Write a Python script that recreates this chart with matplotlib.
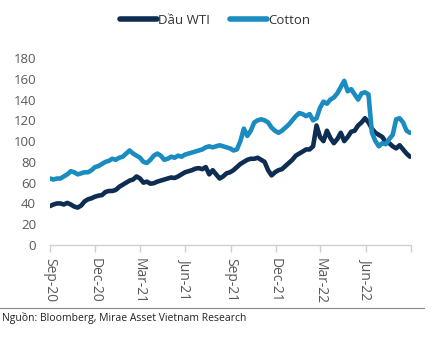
import matplotlib.pyplot as plt
import matplotlib.dates as mdates
import numpy as np
import pandas as pd

plt.rcParams['font.family'] = ['Open Sans', 'DejaVu Sans']

# weekly closes, Sep 2020 - Aug 2022
dates = pd.date_range('2020-09-01', periods=105, freq='7D')

wti = [37.5, 39, 40, 40, 39, 40.5, 39, 37, 36, 38,
       42, 44, 45, 46.5, 47.5, 48, 51, 52, 52, 53,
       56, 58, 60, 62, 63, 66, 64, 60, 61, 59,
       59.5, 61, 62, 63, 64, 65, 64.5, 66, 68, 70,
       71, 72, 73.5, 74, 73, 75, 68, 72, 68, 64,
       66, 69, 70, 72, 75, 78, 80, 82, 83, 83,
       84, 82, 80, 72, 67, 70, 72, 73, 76, 79,
       82, 86, 88, 90, 92, 92, 95, 115, 104, 100,
       110, 103, 98, 102, 108, 100, 104, 109, 110, 115,
       118, 122, 118, 112, 108, 106, 104, 99, 98, 95,
       93, 96, 92, 88, 85]

cotton = [64, 63, 64, 64, 66, 68, 71, 70, 68, 69,
          70, 70, 72, 75, 76, 78, 80, 81, 83, 82,
          84, 85, 88, 91, 88, 86, 84, 80, 79, 82,
          86, 88, 86, 82, 83, 85, 84, 86, 85, 87,
          88, 89, 90, 91, 92, 94, 95, 94, 95, 96,
          95, 94, 93, 91, 92, 100, 112, 105, 110, 118,
          120, 121, 120, 118, 113, 110, 108, 110, 113, 116,
          120, 124, 127, 126, 124, 126, 120, 122, 132, 138,
          136, 140, 142, 146, 152, 158, 148, 150, 145, 140,
          146, 147, 145, 108, 100, 95, 98, 97, 102, 106,
          121, 122, 118, 110, 108]

tick_dates = pd.date_range('2020-09-01', '2022-09-01', freq='3MS')
tick_labels = ['Sep-20', 'Dec-20', 'Mar-21', 'Jun-21', 'Sep-21',
               'Dec-21', 'Mar-22', 'Jun-22', '']

navy = '#0e2d52'
blue = '#1a8cc0'
grey = '#595959'

fig = plt.figure(figsize=(4.39, 3.37), dpi=100)
ax = fig.add_axes([50 / 439, 1 - 245 / 337, 361 / 439, 187 / 337])

ax.plot(dates, wti, color=navy, lw=3.3, label='Dầu WTI', solid_capstyle='round')
ax.plot(dates, cotton, color=blue, lw=3.3, label='Cotton', solid_capstyle='round')

ax.set_xlim(tick_dates[0], tick_dates[-1])
ax.set_ylim(0, 180)
ax.set_yticks(np.arange(0, 181, 20))
ax.set_xticks(tick_dates)
ax.set_xticklabels(tick_labels, rotation=270, fontsize=10, color=grey)
ax.tick_params(axis='y', length=0, labelsize=9.5, labelcolor=grey, pad=10)
ax.tick_params(axis='x', length=5, color='#d0d0d0', width=1, pad=4)

for s in ['top', 'right', 'left']:
    ax.spines[s].set_visible(False)
ax.spines['bottom'].set_color('#d0d0d0')
ax.spines['bottom'].set_linewidth(1)

leg = fig.legend(loc='center', bbox_to_anchor=(0.49, 1 - 20 / 337), ncol=2,
                 frameon=False, fontsize=9.5, handlelength=2.8, handletextpad=0.1,
                 columnspacing=1.5)
for t in leg.get_texts():
    t.set_color('#333333')
for h in leg.get_lines():
    h.set_linewidth(4)
    h.set_solid_capstyle('round')

# source line under the chart
fig.add_artist(plt.Line2D([0, 424 / 439], [1 - 308 / 337] * 2, color='#888888', lw=0.8))
fig.text(2 / 439, 1 - 318 / 337, 'Nguồn: Bloomberg, Mirae Asset Vietnam Research',
         fontsize=7.5, color='#222222', va='center', ha='left')

fig.savefig('out.png', dpi=100)
